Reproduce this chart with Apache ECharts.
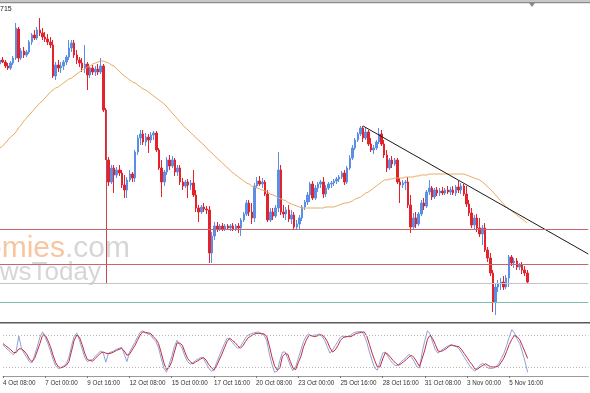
<!DOCTYPE html>
<html><head><meta charset="utf-8">
<script src="https://cdn.jsdelivr.net/npm/echarts@6/dist/echarts.min.js"></script>
<style>html,body{margin:0;padding:0;background:#fff;}#c{width:590px;height:393px;}</style>
</head><body><div id="c"></div>
<script>
// time-axis tick labels (one every 16 H4 bars)
const tickLabels = ['4 Oct 08:00','7 Oct 00:00','9 Oct 16:00','12 Oct 08:00','15 Oct 00:00','17 Oct 16:00','20 Oct 08:00','23 Oct 00:00','25 Oct 16:00','28 Oct 16:00','31 Oct 08:00','3 Nov 00:00','5 Nov 16:00'];
const barsPerLabel = 16;
const slotCount = 223; // bars + empty right-hand shift area

// prices in units of 0.0001
const openPips = [11740,11744,11742,11738,11736,11741,11746,11775,11746,11753,11749,11752,11762,11769,11766,11774,11771,11767,11765,11762,11759,11728,11739,11736,11738,11742,11747,11756,11761,11749,11744,11741,11736,11740,11729,11736,11732,11735,11732,11738,11694,11644,11622,11636,11629,11634,11631,11619,11614,11624,11630,11626,11652,11666,11670,11662,11667,11664,11669,11671,11654,11636,11622,11632,11644,11638,11644,11632,11636,11622,11618,11622,11619,11621,11609,11596,11592,11597,11595,11594,11551,11568,11578,11575,11578,11575,11578,11576,11578,11575,11578,11576,11584,11590,11601,11592,11586,11618,11623,11620,11622,11610,11584,11592,11588,11596,11634,11592,11590,11594,11585,11589,11577,11580,11586,11597,11602,11609,11620,11606,11616,11620,11622,11610,11616,11620,11621,11623,11625,11627,11631,11622,11636,11646,11656,11664,11670,11676,11666,11672,11660,11654,11656,11662,11670,11660,11649,11636,11644,11640,11644,11622,11619,11621,11622,11599,11577,11586,11580,11590,11601,11598,11612,11616,11607,11614,11611,11613,11611,11614,11612,11614,11611,11617,11614,11618,11610,11600,11591,11579,11586,11576,11570,11576,11554,11546,11531,11502,11517,11520,11522,11517,11526,11547,11541,11543,11537,11539,11534,11531];
const highPips = [11746,11747,11744,11741,11743,11748,11781,11777,11756,11757,11754,11764,11771,11774,11777,11786,11776,11772,11770,11767,11764,11742,11744,11742,11744,11749,11764,11764,11764,11754,11747,11746,11759,11742,11738,11739,11738,11740,11746,11740,11696,11647,11639,11639,11637,11639,11634,11629,11627,11634,11632,11654,11669,11674,11674,11671,11670,11672,11673,11673,11656,11644,11634,11647,11649,11648,11646,11639,11639,11626,11624,11625,11624,11634,11614,11599,11599,11601,11598,11598,11572,11582,11582,11580,11581,11580,11580,11580,11581,11580,11581,11586,11592,11604,11604,11601,11621,11627,11628,11626,11624,11614,11596,11596,11599,11652,11639,11599,11597,11599,11594,11592,11584,11589,11599,11604,11612,11622,11623,11619,11622,11624,11627,11619,11622,11623,11625,11627,11629,11633,11634,11638,11649,11659,11666,11672,11678,11678,11676,11674,11666,11659,11664,11676,11674,11664,11654,11646,11648,11646,11646,11626,11624,11624,11627,11609,11591,11592,11592,11604,11606,11614,11624,11618,11616,11617,11616,11617,11616,11618,11617,11618,11619,11623,11621,11620,11618,11604,11596,11589,11590,11586,11579,11581,11557,11551,11534,11521,11524,11526,11528,11529,11549,11549,11546,11546,11541,11542,11538,11534];
const lowPips = [11738,11741,11736,11734,11734,11739,11744,11742,11744,11746,11747,11750,11759,11764,11764,11768,11764,11762,11759,11756,11726,11724,11732,11731,11734,11739,11744,11752,11746,11740,11737,11732,11731,11714,11726,11729,11728,11729,11730,11692,11644,11618,11620,11611,11626,11628,11616,11606,11606,11622,11622,11622,11649,11659,11659,11658,11651,11661,11664,11652,11634,11607,11618,11629,11634,11636,11628,11628,11619,11614,11616,11606,11614,11607,11592,11582,11590,11592,11590,11541,11541,11564,11572,11573,11573,11573,11574,11573,11573,11573,11571,11568,11582,11588,11588,11580,11582,11616,11618,11616,11608,11582,11582,11584,11586,11592,11589,11586,11584,11582,11580,11574,11574,11574,11583,11594,11599,11602,11604,11604,11612,11616,11606,11607,11614,11616,11618,11620,11622,11625,11619,11620,11634,11644,11654,11662,11668,11662,11664,11658,11652,11650,11654,11660,11658,11646,11632,11634,11636,11638,11620,11601,11616,11614,11596,11571,11574,11576,11578,11588,11594,11596,11609,11604,11605,11608,11608,11609,11609,11610,11609,11609,11608,11611,11610,11608,11597,11588,11576,11574,11572,11567,11559,11552,11542,11528,11492,11489,11512,11514,11514,11515,11517,11538,11536,11534,11534,11530,11528,11520];
const closePips = [11744,11742,11738,11736,11741,11746,11776,11746,11753,11749,11752,11762,11769,11766,11774,11771,11767,11765,11762,11759,11728,11739,11736,11738,11742,11747,11756,11761,11749,11744,11741,11736,11740,11729,11736,11732,11735,11732,11738,11694,11646,11622,11636,11629,11634,11631,11619,11614,11624,11630,11626,11652,11666,11670,11662,11667,11664,11669,11671,11654,11636,11622,11632,11644,11638,11644,11632,11636,11622,11618,11622,11619,11621,11609,11596,11592,11597,11595,11594,11551,11568,11578,11575,11578,11575,11578,11576,11578,11575,11578,11576,11584,11590,11601,11592,11586,11618,11623,11620,11622,11610,11584,11592,11588,11596,11634,11592,11590,11594,11585,11589,11577,11580,11586,11597,11602,11609,11620,11606,11616,11620,11622,11610,11616,11620,11621,11623,11625,11627,11631,11622,11636,11646,11656,11664,11670,11676,11666,11672,11660,11654,11656,11662,11670,11660,11649,11636,11644,11640,11644,11622,11619,11621,11622,11599,11577,11586,11580,11590,11601,11598,11612,11616,11607,11614,11611,11613,11611,11614,11612,11614,11611,11617,11614,11618,11610,11600,11591,11579,11586,11576,11570,11576,11554,11546,11531,11502,11517,11520,11522,11517,11526,11547,11541,11543,11537,11539,11534,11531,11522];
const maPips = [11656,11658,11661,11664,11667,11669,11672,11676,11679,11683,11686,11689,11692,11695,11698,11701,11703,11706,11709,11712,11714,11716,11717,11719,11721,11723,11725,11726,11728,11730,11732,11734,11735,11737,11738,11740,11741,11742,11743,11743,11742,11741,11739,11738,11735,11733,11730,11728,11726,11724,11722,11721,11719,11717,11715,11714,11712,11710,11708,11706,11704,11702,11700,11697,11694,11691,11688,11685,11682,11679,11676,11674,11671,11669,11666,11664,11661,11659,11656,11653,11651,11648,11646,11643,11641,11638,11636,11633,11631,11629,11627,11625,11623,11621,11620,11618,11617,11616,11615,11614,11613,11612,11610,11609,11608,11606,11605,11604,11603,11601,11600,11599,11598,11597,11596,11596,11596,11596,11596,11596,11596,11596,11596,11597,11597,11597,11597,11598,11599,11600,11601,11601,11602,11603,11605,11606,11607,11609,11611,11612,11614,11616,11618,11620,11622,11624,11624,11625,11625,11626,11626,11626,11626,11627,11627,11627,11627,11628,11628,11629,11629,11629,11630,11630,11630,11630,11630,11630,11630,11630,11630,11630,11630,11630,11630,11630,11629,11628,11627,11626,11625,11624,11622,11620,11617,11615,11612,11609,11606,11603,11600,11597,11595,11593,11591,11589,11587,11585,11583,11581];
// stochastic oscillator (%K main, %D signal)
const stochMain = [62,56,52,47,43,50,78,55,46,38,30,28,42,58,76,86,76,64,50,34,22,17,18,22,26,38,60,78,84,70,54,38,30,33,34,40,45,50,47,29,46,48,50,53,55,57,44,30,48,57,66,76,85,88,84,82,80,73,68,56,36,18,10,24,40,58,70,62,55,40,30,25,28,32,35,38,36,27,18,12,14,28,40,52,64,74,72,66,60,55,58,66,75,80,82,84,85,86,82,80,70,45,25,10,12,32,48,48,36,22,13,20,36,52,68,78,82,78,80,80,82,78,70,58,46,52,60,68,76,78,76,78,80,84,86,86,87,80,66,48,32,18,14,30,46,48,40,32,26,22,24,30,34,38,44,38,30,20,18,48,70,88,82,66,52,46,50,54,57,60,62,60,58,54,46,38,30,22,16,12,18,24,27,22,18,17,18,20,26,36,46,60,76,90,84,72,64,48,30,10];
const stochSignal = [64,60,56,52,47,47,54,54,50,44,35,30,36,50,64,80,80,70,58,42,28,20,19,20,23,30,50,70,80,76,62,46,34,32,31,36,41,46,48,46,45,46,48,51,53,55,50,42,44,52,60,70,80,86,85,84,83,77,72,64,47,28,15,19,30,48,65,65,61,48,36,30,26,29,32,35,38,33,25,19,14,22,33,44,56,68,74,70,66,60,55,60,68,75,78,81,83,83,83,82,78,60,39,22,14,18,40,45,44,30,18,15,28,40,58,70,79,79,77,78,80,80,76,68,56,48,52,60,70,75,77,77,77,80,83,84,85,86,78,62,46,32,20,20,35,47,44,38,32,27,23,26,30,34,39,42,37,29,21,36,52,72,80,73,62,50,49,51,54,58,61,60,59,58,52,45,38,30,24,16,16,20,23,26,23,20,20,20,22,29,37,49,62,72,79,77,71,60,48,36];
const stochLevels = [80, 20];
// horizontal price levels
const redLevels = [1.1575, 1.1540];
const grayLevel = 1.1521;
const tealLevel = 1.1502;
// vertical marker and trend line
const markerBar = 40, markerTop = 1.1694, markerBottom = 1.1521;
const trendStart = [137, 1.1678], trendEnd = [222, 1.1550];

const toPrice = v => v / 10000;
const categories = Array.from({length: slotCount}, (_, i) => String(i));
const candles = openPips.map((o, i) => [toPrice(o), toPrice(closePips[i]), toPrice(lowPips[i]), toPrice(highPips[i])]);
const ma = maPips.map(toPrice);
const isLabel = (idx) => idx % barsPerLabel === 0 && idx / barsPerLabel < tickLabels.length;

const chart = echarts.init(document.getElementById('c'), null, {renderer: 'canvas'});
const redLine = {color: '#c9646c', width: 1, type: 'solid'};
const hLine = (v, style) => [{coord: ['0', v], lineStyle: style}, {coord: [String(slotCount - 1), v]}];
chart.setOption({
  animation: false,
  backgroundColor: '#ffffff',
  grid: [
    {left: 0, right: 1.7, top: 4, height: 318},
    {left: 0, right: 1.7, top: 324.4, height: 51.6}
  ],
  xAxis: [
    {type: 'category', gridIndex: 0, data: categories, boundaryGap: false, show: false},
    {type: 'category', gridIndex: 1, data: categories, boundaryGap: false,
     axisLine: {show: true, lineStyle: {color: '#9a9a9a', width: 1}},
     axisTick: {show: true, interval: (i) => isLabel(i), length: 2, lineStyle: {color: '#777'}},
     axisLabel: {interval: (i) => isLabel(i), formatter: (v, i) => tickLabels[Math.round(Number(v) / barsPerLabel)],
       align: 'left', margin: 4, fontSize: 6.3, color: '#333', fontFamily: 'Liberation Sans'},
     splitLine: {show: false}}
  ],
  yAxis: [
    {type: 'value', gridIndex: 0, min: 1.1482, max: 1.1800, show: false},
    {type: 'value', gridIndex: 1, min: 3, max: 100, show: false}
  ],
  graphic: [
    {type: 'rect', shape: {x: 0, y: 0, width: 590, height: 2}, style: {fill: '#c8c8c8'}, silent: true},
    {type: 'rect', shape: {x: 0, y: 2, width: 590, height: 1.2}, style: {fill: '#8c8c8c'}, silent: true},
    {type: 'polygon', shape: {points: [[529, 3], [535, 3], [532, 7]]}, style: {fill: '#8a8a8a'}, silent: true},
    {type: 'rect', shape: {x: 0, y: 322, width: 590, height: 1.6}, style: {fill: '#5a5a5a'}, silent: true},
    {type: 'text', x: 0, y: 9, style: {text: '715', fill: '#222', font: '7px "Liberation Sans"', verticalAlign: 'middle', align: 'left'}, silent: true},
    {type: 'text', x: 130, y: 248.6, z: -1, style: {text: '{o|Economies}{g|.com}', align: 'right', verticalAlign: 'middle',
      rich: {o: {fill: '#f7c6a0', font: '30px "Liberation Sans"'}, g: {fill: '#d6d6d6', font: '30px "Liberation Sans"'}}}, silent: true},
    {type: 'text', x: 101, y: 272.8, z: -1, style: {text: 'NewsToday', fill: '#d6d6d6', font: '26px "Liberation Sans"', align: 'right', verticalAlign: 'middle'}, silent: true}
  ],
  series: [
    {type: 'candlestick', xAxisIndex: 0, yAxisIndex: 0, data: candles, barWidth: 2,
     itemStyle: {color: '#5b8fe6', color0: '#e3222b', borderColor: '#5b8fe6', borderColor0: '#e3222b', borderWidth: 1},
     markLine: {silent: true, symbol: ['none', 'none'], label: {show: false}, animation: false,
       data: [
         [{coord: [String(markerBar), markerTop], lineStyle: {color: '#c2484e', width: 1, type: 'solid'}}, {coord: [String(markerBar), markerBottom]}],
         [{coord: [String(trendStart[0]), trendStart[1]], lineStyle: {color: '#1a1a1a', width: 1, type: 'solid'}}, {coord: [String(trendEnd[0]), trendEnd[1]]}]
       ]}},
    {type: 'line', xAxisIndex: 0, yAxisIndex: 0, data: ma, showSymbol: false, symbol: 'none',
     lineStyle: {color: '#e6ac62', width: 1},
     markLine: {silent: true, symbol: ['none', 'none'], label: {show: false}, animation: false,
       data: [
         hLine(redLevels[0], redLine),
         hLine(redLevels[1], redLine),
         hLine(grayLevel, {color: '#c4c4c4', width: 1, type: 'solid'}),
         hLine(tealLevel, {color: '#82bfae', width: 1, type: 'solid'})
       ]}},
    {type: 'line', xAxisIndex: 1, yAxisIndex: 1, data: stochMain, showSymbol: false, symbol: 'none',
     lineStyle: {color: '#8fa3d2', width: 1},
     markLine: {silent: true, symbol: ['none', 'none'], label: {show: false},
       data: stochLevels.map(v => ({yAxis: v})), lineStyle: {color: '#b8b8b8', width: 1, type: [1, 2]}}},
    {type: 'line', xAxisIndex: 1, yAxisIndex: 1, data: stochSignal, showSymbol: false, symbol: 'none',
     lineStyle: {color: '#c42a45', width: 1}}
  ]
});
</script>
</body></html>
